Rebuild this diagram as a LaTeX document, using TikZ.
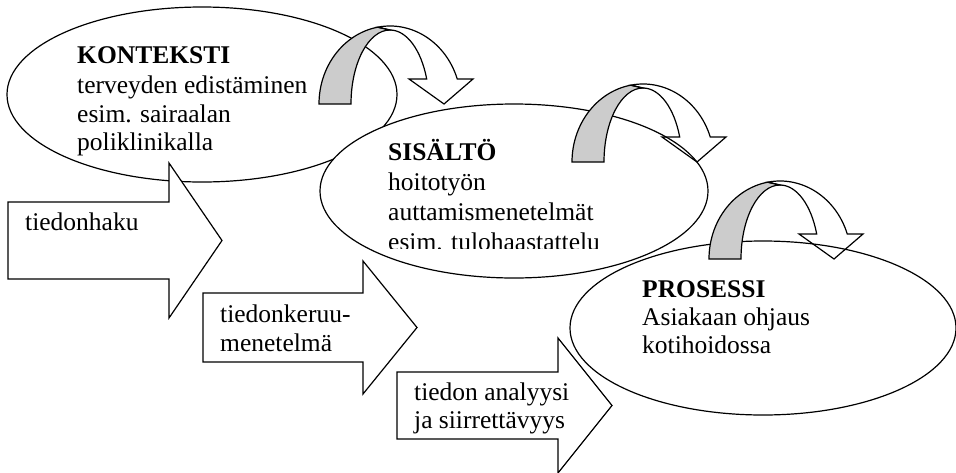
\documentclass[tikz,border=0pt]{standalone}
\usepackage{fontspec}
\setmainfont{Liberation Serif}
\definecolor{ribbongray}{HTML}{CCCCCC}
\tikzset{
  outline/.style={draw=black, line width=1.2pt, line join=miter},
  shapefill/.style={outline, fill=white},
  labeltext/.style={anchor=base west, inner sep=0pt, font=\fontsize{25.5}{29}\selectfont},
  ribbon/.pic={
    \filldraw[outline, fill=ribbongray] (-71,0)
      arc[start angle=180, end angle=260, x radius=71, y radius=78]
      -- (0,-74)
      arc[start angle=270, end angle=180, x radius=39, y radius=74] -- cycle;
    \draw[outline] (-12.33,-76.82)
      arc[start angle=260, end angle=341.3, x radius=71, y radius=78]
      -- (83,-25) -- (54,0) -- (19,-25) -- (36.7,-25)
      arc[start angle=340.25, end angle=270, x radius=39, y radius=74] -- cycle;
  }
}
\begin{document}
\begin{tikzpicture}[x=1pt,y=-1pt]
\useasboundingbox (0,0) rectangle (956,472);
\fill[white] (0,0) rectangle (956,472);
% ellipses and block arrows
\draw[shapefill] (202,94.5) ellipse [x radius=195, y radius=87.5];
\draw[shapefill] (8,202) -- (169,202) -- (169,163) -- (222,240.5) -- (169,318) -- (169,279) -- (8,279) -- cycle;
\draw[shapefill] (514,191) ellipse [x radius=194, y radius=87];
\draw[shapefill] (763,328) ellipse [x radius=193, y radius=87];
\draw[shapefill] (203,293) -- (363,293) -- (363,261) -- (417,327.5) -- (363,394) -- (363,362) -- (203,362) -- cycle;
\draw[shapefill] (397,372) -- (558,372) -- (558,338) -- (612,405.5) -- (558,473) -- (558,439) -- (397,439) -- cycle;
% texts
\node[labeltext] (k1) at (77,63) {\textbf{KONTEKSTI}};
\node[labeltext] (k2) at (77,93) {terveyden edistäminen};
\node[labeltext] (k3) at (77,122) {esim. sairaalan};
\node[labeltext] (k4) at (77,150) {poliklinikalla};
\node[labeltext] (s1) at (388,160) {\textbf{SISÄLTÖ}};
\node[labeltext] (s2) at (388,190) {hoitotyön};
\node[labeltext] (s3) at (388,220) {auttamismenetelmät};
\begin{scope}
  \clip (300,200) rectangle (720,248.5);
  \node[labeltext] (s4) at (388,250) {esim. tulohaastattelu};
\end{scope}
\node[labeltext] (p1) at (642,297) {\textbf{PROSESSI}};
\node[labeltext] (p2) at (642,325) {Asiakaan ohjaus};
\node[labeltext] (p3) at (642,353) {kotihoidossa};
\node[labeltext] (a1) at (25,230) {tiedonhaku};
\node[labeltext] (b1) at (220,322) {tiedonkeruu-};
\node[labeltext] (b2) at (220,351) {menetelmä};
\node[labeltext] (c1) at (414,400) {tiedon analyysi};
\node[labeltext] (c2) at (414,428) {ja siirrettävyys};
% curved arrows
\pic at (390,104) {ribbon};
\pic at (643,162) {ribbon};
\pic at (780,259) {ribbon};
\end{tikzpicture}
\end{document}
